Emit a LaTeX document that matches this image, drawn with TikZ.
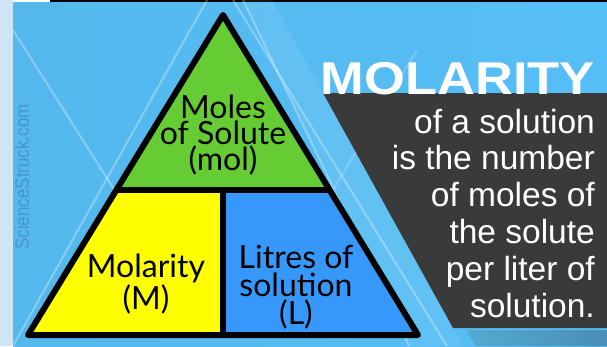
\documentclass[tikz,border=0pt]{standalone}
\usepackage{fontspec}
\setmainfont{Lato}
\newfontfamily\arialfont{Liberation Sans}
\usepackage{tikz}
\usetikzlibrary{calc}
\usepackage{xcolor}
\definecolor{skyleft}{RGB}{84,184,236}
\definecolor{skycyan}{RGB}{96,214,250}
\definecolor{skyright}{RGB}{86,190,247}
\definecolor{paleblue}{RGB}{206,229,246}
\definecolor{leafgreen}{RGB}{102,204,51}
\definecolor{lemon}{RGB}{255,255,0}
\definecolor{cellblue}{RGB}{54,152,250}
\definecolor{slate}{RGB}{58,58,58}
\definecolor{steelblue}{RGB}{74,142,182}
\definecolor{markgrey}{RGB}{72,150,200}

\begin{document}
\begin{tikzpicture}[x=1pt, y=-1pt,
    cell/.style={font=\fontsize{32}{26}\selectfont, text=black, inner sep=0pt, align=center},
    body/.style={font=\arialfont\fontsize{33.5}{33.5}\selectfont, text=white, inner sep=0pt, anchor=base east},
    glow/.style={white, opacity=0.3, line width=2pt}]
  \useasboundingbox (0,0) rectangle (607,346);
  % Background
  \shade[left color=skyleft, middle color=skycyan, right color=skyright] (13,0) rectangle (607,346);
  \fill[paleblue] (0,0) rectangle (13,346);
  \fill[white] (13,0) rectangle (50,1.5);
  \fill[black] (50,0) rectangle (607,1.5);
  % Faint lines behind
  \fill[white, opacity=0.08] (243,0) -- (272,0) -- (463,346) -- (409,346) -- cycle;
  \draw[glow] (207,0) -- (13,346);
  \draw[glow] (233,0) -- (447,346);
  \draw[glow] (243,0) -- (409,346);
  \draw[glow] (13,30) -- (200,325);
  \draw[glow, opacity=0.2] (417,50) -- (330,195);
  \node[rotate=90, font=\arialfont\fontsize{19.5}{19.5}\selectfont, text=markgrey, inner sep=0pt]
    (brand) at (22,177) {\scalebox{0.87}[1]{ScienceStruck.com}};

  % Dark band
  \fill[slate] (323,93) -- (607,93) -- (607,328) -- (453,328) -- cycle;
  \shade[left color=steelblue!60!skycyan, right color=steelblue] (466,330) -- (607,330) -- (607,346) -- (476,346) -- cycle;

  % Triangle
  \coordinate (apex) at (223,15);
  \coordinate (bl) at (28,335);
  \coordinate (br) at (418,335);
  \coordinate (ml) at ($(apex)!0.547!(bl)$);
  \coordinate (mr) at ($(apex)!0.547!(br)$);
  \coordinate (mm) at ($(ml)!0.5!(mr)$);
  \coordinate (bm) at ($(bl)!0.5!(br)$);
  \fill[leafgreen] (apex) -- (ml) -- (mr) -- cycle;
  \fill[lemon] (ml) -- (mm) -- (bm) -- (bl) -- cycle;
  \fill[cellblue] (mm) -- (mr) -- (br) -- (bm) -- cycle;
  \draw[line width=6pt, line join=round] (apex) -- (bl) -- (br) -- cycle;
  \draw[line width=6pt] (ml) -- (mr);
  \draw[line width=6pt] (mm) -- (bm);

  \node[cell] (solute) at (223,135) {Moles\\of Solute\\(mol)};
  \node[cell] (molarity) at (146,284) {Molarity\\(M)};
  \node[cell, font=\fontsize{32}{28}\selectfont] (litres) at (296,287) {Litres of\\solution\\(L)};

  % Definition text
  \node[font=\arialfont\bfseries\fontsize{46}{46}\selectfont, text=white, inner sep=0pt, anchor=base east]
    (title) at (595,94) {\scalebox{1.14}[1]{MOLARITY}};
  \foreach \txt [count=\i] in {of a solution, is the number, of moles of, the solute, per liter of, solution.}
    \node[body] (line\i) at (595,{133+36.8*(\i-1)}) {\txt};
\end{tikzpicture}
\end{document}
